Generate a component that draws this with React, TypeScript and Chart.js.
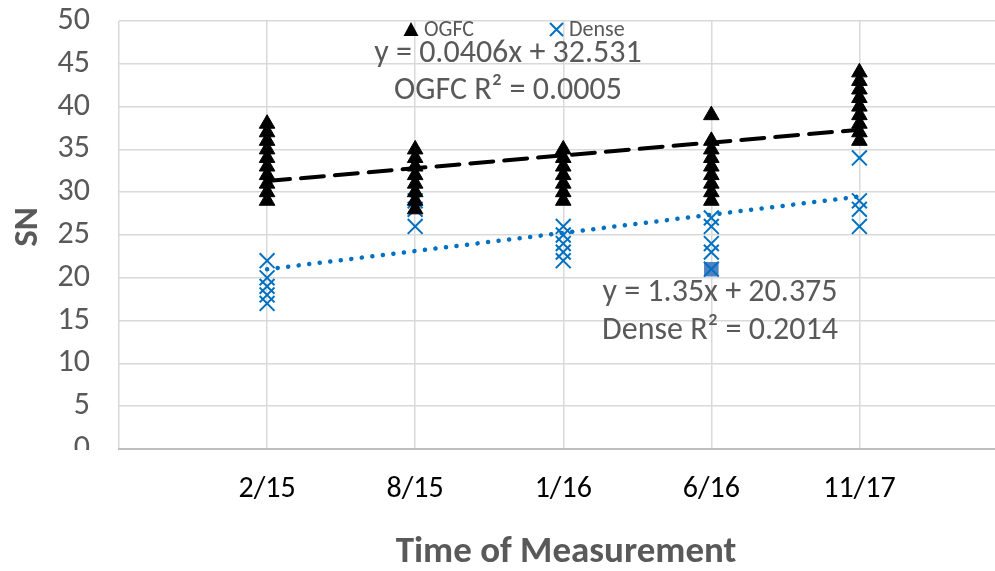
import { useEffect, useRef } from "react";
import { Chart, registerables } from "chart.js";

Chart.register(...registerables);

// Measurement dates (x positions 1..5)
const categories = ["2/15", "8/15", "1/16", "6/16", "11/17"];

// Skid numbers per measurement date
const ogfcValues: number[][] = [
  [29, 30, 31, 32, 33, 34, 35, 36, 37, 38],
  [28, 29, 30, 31, 32, 33, 34, 35],
  [29, 30, 31, 32, 33, 34, 35],
  [29, 30, 31, 32, 33, 34, 35, 36, 39],
  [36, 37, 38, 39, 40, 41, 42, 43, 44],
];
const denseValues: number[][] = [
  [22, 20, 19, 18, 17],
  [26, 28, 29],
  [26, 25, 24, 23, 22],
  [27, 26, 24, 23, 21],
  [34, 29, 28, 26],
];

// Trend line end values (first and last date)
const ogfcTrend = [31.3, 37.3];
const denseTrend = [21.0, 29.5];

// Selected point: Dense, 6/16, 21
const selectedCategory = 3;
const selectedValue = 21;

const ogfcEquation = ["y = 0.0406x + 32.531", "OGFC R\u00b2 = 0.0005"];
const denseEquation = ["y = 1.35x + 20.375", "Dense R\u00b2 = 0.2014"];

const yMin = 0;
const yMax = 50;
const yStep = 5;

const FONT = "Carlito, Calibri, Lato, 'Open Sans', sans-serif";
const GREY = "#595959";
const BLUE = "#0070C0";

const toPoints = (groups: number[][]) =>
  groups.flatMap((vals, i) => vals.map((v) => ({ x: i + 1, y: v })));

const overlay = {
  id: "overlay",
  afterDraw(chart: any) {
    const ctx: CanvasRenderingContext2D = chart.ctx;
    const { chartArea } = chart;
    ctx.save();

    // the bottom value label is cut by the category axis
    ctx.fillStyle = "#ffffff";
    ctx.fillRect(0, chartArea.bottom + 1, chartArea.left - 2, 12);

    // legend
    ctx.fillStyle = "#000000";
    ctx.beginPath();
    ctx.moveTo(411, 22);
    ctx.lineTo(418.5, 36);
    ctx.lineTo(403.5, 36);
    ctx.closePath();
    ctx.fill();
    ctx.strokeStyle = BLUE;
    ctx.lineWidth = 2;
    ctx.beginPath();
    ctx.moveTo(550, 23);
    ctx.lineTo(563, 36);
    ctx.moveTo(563, 23);
    ctx.lineTo(550, 36);
    ctx.stroke();
    ctx.fillStyle = GREY;
    ctx.font = `22px ${FONT}`;
    ctx.textAlign = "left";
    ctx.textBaseline = "middle";
    ctx.fillText("OGFC", 424, 30);
    ctx.fillText("Dense", 569, 30);

    // trend equations
    ctx.font = `32px ${FONT}`;
    ctx.textAlign = "center";
    ctx.fillText(ogfcEquation[0], 508, 54);
    ctx.fillText(ogfcEquation[1], 508, 91);
    ctx.fillText(denseEquation[0], 720, 293);
    ctx.fillText(denseEquation[1], 720, 331);

    // axis titles
    ctx.font = `bold 37px ${FONT}`;
    ctx.fillText("Time of Measurement", 566, 553);
    ctx.translate(28, 227);
    ctx.rotate(-Math.PI / 2);
    ctx.font = `bold 35px ${FONT}`;
    ctx.fillText("SN", 0, 0);

    ctx.restore();
  },
};

export default function App() {
  const canvasRef = useRef<HTMLCanvasElement | null>(null);

  useEffect(() => {
    const canvas = canvasRef.current;
    if (!canvas) return;

    const selected = [{ x: selectedCategory + 1, y: selectedValue }];

    const chart = new Chart(canvas, {
      type: "scatter",
      data: {
        datasets: [
          {
            label: "OGFC trend",
            data: [
              { x: 1, y: ogfcTrend[0] },
              { x: categories.length, y: ogfcTrend[1] },
            ],
            showLine: true,
            borderColor: "#000000",
            borderWidth: 4,
            borderDash: [23, 11],
            borderCapStyle: "round",
            pointRadius: 0,
            order: 0,
          },
          {
            label: "Dense trend",
            data: [
              { x: 1, y: denseTrend[0] },
              { x: categories.length, y: denseTrend[1] },
            ],
            showLine: true,
            borderColor: BLUE,
            borderWidth: 4.5,
            borderDash: [0.1, 10.5],
            borderCapStyle: "round",
            pointRadius: 0,
            order: 1,
          },
          {
            label: "OGFC",
            data: toPoints(ogfcValues),
            pointStyle: "triangle",
            pointRadius: 9,
            backgroundColor: "#000000",
            borderColor: "#000000",
            borderWidth: 1,
            order: 2,
          },
          {
            label: "Dense",
            data: toPoints(denseValues),
            pointStyle: "crossRot",
            pointRadius: 10.5,
            borderColor: BLUE,
            borderWidth: 2,
            order: 3,
          },
          {
            label: "Selected",
            data: selected,
            pointStyle: "rect",
            pointRadius: 9.5,
            backgroundColor: "#4F81C4",
            borderColor: "#4F81C4",
            borderWidth: 1,
            order: 4,
          },
        ],
      },
      options: {
        responsive: false,
        animation: false,
        events: [],
        layout: { padding: { top: 21, right: 4, bottom: 0, left: 0 } },
        plugins: {
          legend: { display: false },
          tooltip: { enabled: false },
          title: { display: false },
        },
        scales: {
          x: {
            type: "linear",
            min: 0,
            max: categories.length + 1,
            afterFit: (scale: any) => {
              scale.height = 122;
              scale.paddingLeft = 0;
              scale.paddingRight = 0;
            },
            ticks: {
              stepSize: 1,
              autoSkip: false,
              maxRotation: 0,
              padding: 22,
              color: "#000000",
              font: { family: FONT, size: 30 },
              callback: (v: any) => categories[Number(v) - 1] ?? "",
            },
            grid: {
              color: "#d9d9d9",
              lineWidth: 1.5,
              drawTicks: false,
            },
            border: { color: "#bfbfbf", width: 2 },
          },
          y: {
            min: yMin,
            max: yMax,
            afterFit: (scale: any) => {
              scale.width = 119;
              scale.paddingTop = 0;
              scale.paddingBottom = 0;
            },
            ticks: {
              stepSize: yStep,
              padding: 29,
              color: GREY,
              font: { family: FONT, size: 32 },
            },
            grid: {
              color: "#d9d9d9",
              lineWidth: 1.5,
              drawTicks: false,
            },
            border: { display: false },
          },
        },
      },
      plugins: [overlay],
    });

    return () => chart.destroy();
  }, []);

  return (
    <div
      style={{
        position: "fixed",
        left: 0,
        top: 0,
        width: 995,
        height: 571,
        overflow: "hidden",
        background: "#ffffff",
      }}
    >
      <canvas ref={canvasRef} width={1020} height={571} style={{ display: "block" }} />
    </div>
  );
}
